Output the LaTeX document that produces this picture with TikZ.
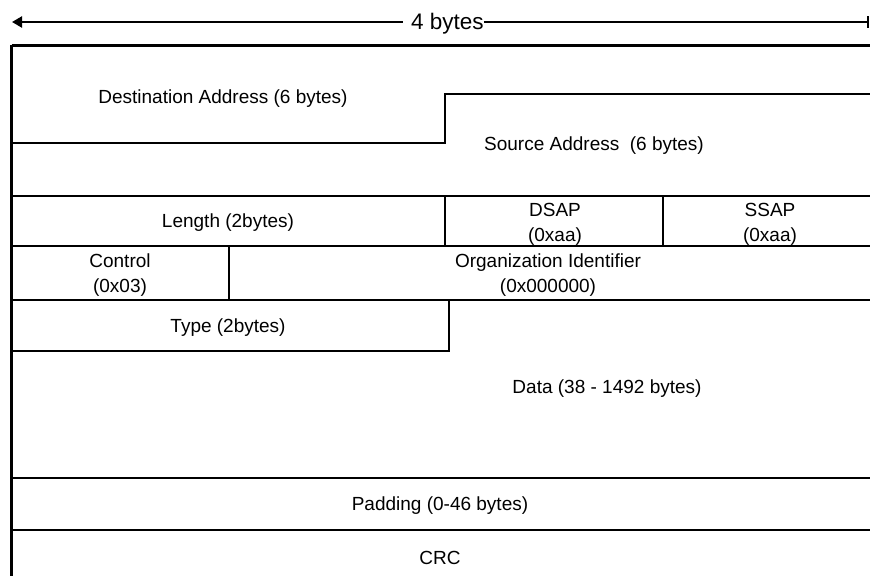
\documentclass[tikz,border=0pt]{standalone}
\usepackage{fontspec}
\setmainfont{Liberation Sans}
\usetikzlibrary{arrows.meta}
\begin{document}
\begin{tikzpicture}[x=1pt,y=-1pt,
  frame/.style={line width=2.2pt},
  field/.style={font=\fontsize{19}{25}\selectfont,align=center,inner sep=0pt},
  wordlabel/.style={font=\fontsize{22.5}{24}\selectfont,inner sep=0pt,anchor=west}]
\useasboundingbox (0,0) rectangle (870,576);

% width marker above the frame
\coordinate (wL) at (12,22);
\coordinate (wR) at (869,22);
\node[wordlabel] (bytes) at (411,23.5) {4 bytes};
\draw[frame,{Triangle[length=10pt,width=11pt]}-] (wL) -- ([xshift=-8pt]bytes.west |- wL);
\draw[frame,-{Bar[width=12pt]}] (bytes.east |- wR) -- (wR);

% outer frame: top edge and left edge
\draw[frame] (11.5,45.5) -- (870,45.5);
\draw[frame] (11.5,44.5) -- (11.5,576);

% destination / source address boundary
\draw[frame] (11,143) -- (445,143) -- (445,94) -- (870,94);
% length / DSAP / SSAP row
\draw[frame] (11,196) -- (870,196);
\draw[frame] (11,246) -- (870,246);
\draw[frame] (445,196) -- (445,246);
\draw[frame] (663,196) -- (663,246);
% control / organization identifier row
\draw[frame] (11,300) -- (870,300);
\draw[frame] (229,246) -- (229,300);
% type field
\draw[frame] (11,351) -- (449,351) -- (449,299);
% padding and CRC rows
\draw[frame] (11,478) -- (870,478);
\draw[frame] (11,530) -- (870,530);

% field labels
\node[field] (dst)   at (223,99)  {Destination Address (6 bytes)};
\node[field] (src)   at (594,146) {Source Address\ \ (6 bytes)};
\node[field] (len)   at (228,223) {Length (2bytes)};
\node[field] (dsap)  at (555,224) {DSAP\\(0xaa)};
\node[field] (ssap)  at (770,224) {SSAP\\(0xaa)};
\node[field] (ctrl)  at (120,275) {Control\\(0x03)};
\node[field] (oui)   at (548,275) {Organization Identifier\\(0x000000)};
\node[field] (type)  at (228,328) {Type (2bytes)};
\node[field] (data)  at (607,389) {Data (38 - 1492 bytes)};
\node[field] (pad)   at (440,506) {Padding (0-46 bytes)};
\node[field] (crc)   at (440,558) {CRC};
\end{tikzpicture}
\end{document}
